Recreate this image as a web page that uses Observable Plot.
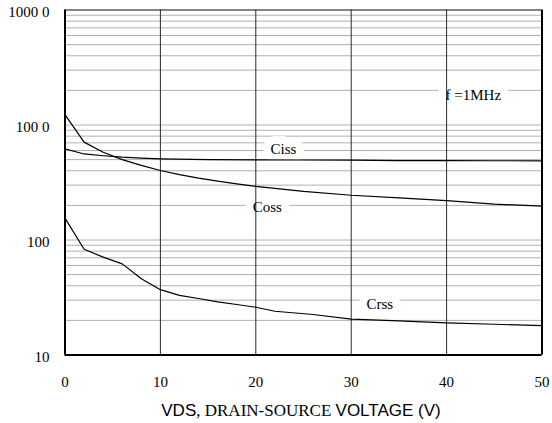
<!DOCTYPE html>
<html><head><meta charset="utf-8">
<script src="https://cdn.jsdelivr.net/npm/d3@7"></script>
<script src="https://cdn.jsdelivr.net/npm/@observablehq/plot@0.6"></script>
<style>body{margin:0;background:#fff}</style></head>
<body><div id="chart"></div>
<script>
// Capacitance (pF) vs VDS (V)
const cissV = [0, 2, 4, 6, 8, 10, 15, 20, 25, 30, 35, 40, 45, 50];
const cissC = [620, 560, 540, 525, 515, 508, 500, 498, 496, 495, 490, 490, 489, 488];
const cossV = [0, 2, 4, 6, 8, 10, 12, 14, 16, 18, 20, 25, 30, 35, 40, 45, 50];
const cossC = [1230, 710, 580, 500, 445, 402, 370, 345, 325, 308, 293, 265, 245, 232, 220, 205, 197];
const crssV = [0, 2, 4, 6, 8, 10, 12, 14, 16, 18, 20, 22, 26, 30, 35, 40, 45, 50];
const crssC = [155, 83, 71, 62, 46, 37, 33, 31, 29, 27.5, 26, 24, 22.5, 20.5, 19.8, 19, 18.5, 18];

const labelText = ["Ciss", "Coss", "Crss", "f =1MHz"];
const labelV = [22.9, 21.2, 33, 42.8];
const labelC = [612, 191, 27.9, 1811];

const xTicks = [0, 10, 20, 30, 40, 50];
const xGrid = [10, 20, 30, 40];
const yTicks = [10, 100, 1000, 10000];
const yTickLabels = ["10", "100", "100 0", "1000 0"];
const decades = [10, 100, 1000];
const multipliers = [1, 2, 3, 4, 5, 6, 7, 8, 9];

const toRows = (v, c, name) => v.map((d, i) => ({v: d, c: c[i], name}));
const curves = [
  ...toRows(cissV, cissC, "Ciss"),
  ...toRows(cossV, cossC, "Coss"),
  ...toRows(crssV, crssC, "Crss")
];
const labels = labelText.map((t, i) => ({t, v: labelV[i], c: labelC[i]}));
const gridY = decades.flatMap(d => multipliers.map(m => d * m)).concat([10000]);
const yLabelMap = new Map(yTicks.map((d, i) => [d, yTickLabels[i]]));

const serif = "Liberation Serif";
const sans = "Liberation Sans";

const plot = Plot.plot({
  width: 552, height: 423,
  marginLeft: 64.5, marginRight: 10.5, marginTop: 9.5, marginBottom: 68.5,
  x: {domain: [0, 50]},
  y: {type: "log", domain: [10, 10000]},
  style: {fontFamily: serif, fontSize: "15px", background: "#fff", color: "#000"},
  marks: [
    Plot.ruleY(gridY, {stroke: "#b0b0b0", strokeWidth: 1}),
    Plot.text(labels, {x: "v", y: "c", text: "t", fill: "white", stroke: "white", strokeWidth: 16, fontSize: 15, fontFamily: serif}),
    Plot.ruleX(xGrid, {stroke: "#2a2a2a", strokeWidth: 1}),
    Plot.line(curves, {x: "v", y: "c", z: "name", stroke: "#000", strokeWidth: 1.2}),
    Plot.text(labels, {x: "v", y: "c", text: "t", fill: "#000", fontSize: 15, fontFamily: serif}),
    Plot.ruleX([0, 50], {stroke: "#000", strokeWidth: 2}),
    Plot.ruleY([10], {stroke: "#000", strokeWidth: 2}),
    Plot.ruleY([10000], {stroke: "#333", strokeWidth: 1}),
    Plot.axisX({ticks: xTicks, tickSize: 0, tickPadding: 21, label: null, fontSize: 15, fontFamily: serif, tickFormat: d => String(d)}),
    Plot.axisY({ticks: yTicks, tickSize: 0, tickPadding: 15.5, dy: 2.5, label: null, fontSize: 15, fontFamily: serif, tickFormat: d => yLabelMap.get(d)})
  ]
});

const svg = d3.select(plot);
const title = svg.append("text")
  .attr("x", 301).attr("y", 416)
  .attr("text-anchor", "middle")
  .style("font-size", "17px")
  .attr("fill", "#000");
title.append("tspan").style("font-family", sans).text("VDS");
title.append("tspan").style("font-family", serif).text(", DRAIN-SOURCE ");
title.append("tspan").style("font-family", sans).text("VOLTAGE (V)");

document.getElementById("chart").appendChild(plot);
</script>
</body></html>
